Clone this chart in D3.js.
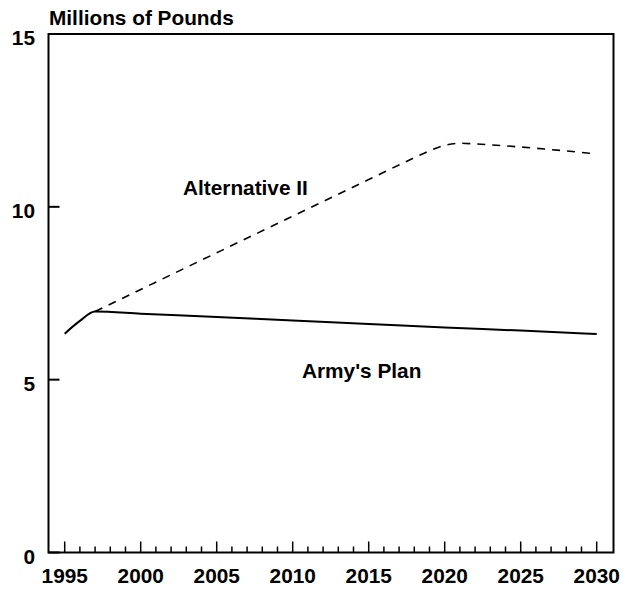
<!DOCTYPE html>
<html><head><meta charset="utf-8">
<script src="https://cdn.jsdelivr.net/npm/d3@7"></script>
<style>body{margin:0;background:#fff}svg text{font-family:"Liberation Sans",Arial,sans-serif;font-weight:bold;fill:#000}</style>
</head><body>
<svg id="c" width="633" height="590"></svg>
<script>
const armyYears = [1995, 1996, 1997, 2000, 2005, 2010, 2015, 2020, 2025, 2030];
const armyValues = [6.33, 6.70, 6.97, 6.91, 6.81, 6.71, 6.61, 6.51, 6.42, 6.32];
const altYears = [1997, 2000, 2005, 2010, 2015, 2018, 2019, 2020, 2021, 2022, 2025, 2030];
const altValues = [6.97, 7.61, 8.67, 9.73, 10.79, 11.42, 11.62, 11.78, 11.84, 11.82, 11.73, 11.53];
const yTicks = [0, 5, 10, 15];
const xTickLabels = [1995, 2000, 2005, 2010, 2015, 2020, 2025, 2030];
const seriesLabels = ["Alternative II", "Army's Plan"];
const yTitle = "Millions of Pounds";

const svg = d3.select("#c");
const box = {l: 48.5, r: 613.5, t: 34, b: 552.5};
const x = d3.scaleLinear().domain([1995, 2030]).range([64.7, 596.7]);
const y = d3.scaleLinear().domain([0, 15]).range([552.5, 34]);
const fs = 20.8;

// frame
svg.append("rect").attr("x", box.l).attr("y", box.t)
  .attr("width", box.r - box.l).attr("height", box.b - box.t)
  .attr("fill", "none").attr("stroke", "#000").attr("stroke-width", 2);

// x ticks
const minor = d3.range(1995, 2031);
svg.append("g").selectAll("line").data(minor).join("line")
  .attr("x1", d => x(d)).attr("x2", d => x(d))
  .attr("y1", box.b).attr("y2", d => box.b - (d % 5 === 0 ? 11 : 6))
  .attr("stroke", "#000").attr("stroke-width", 1.5);
svg.append("g").selectAll("text").data(xTickLabels).join("text")
  .attr("x", d => x(d)).attr("y", 583).attr("text-anchor", "middle")
  .attr("font-size", fs).text(d => d);

// y ticks
svg.append("g").selectAll("line").data(yTicks).join("line")
  .attr("x1", box.l).attr("x2", box.l + 11)
  .attr("y1", d => y(d)).attr("y2", d => y(d))
  .attr("stroke", "#000").attr("stroke-width", 2);
svg.append("g").selectAll("text").data(yTicks).join("text")
  .attr("x", 35).attr("y", d => y(d) + 11).attr("text-anchor", "end")
  .attr("font-size", fs).text(d => d);

svg.append("text").attr("x", 49).attr("y", 25).attr("font-size", fs).text(yTitle);

const line = d3.line().x(d => x(d[0])).y(d => y(d[1])).curve(d3.curveMonotoneX);
svg.append("path").datum(altYears.map((d, i) => [d, altValues[i]]))
  .attr("d", line).attr("fill", "none").attr("stroke", "#000")
  .attr("stroke-width", 1.6).attr("stroke-dasharray", "8,7");
svg.append("path").datum(armyYears.map((d, i) => [d, armyValues[i]]))
  .attr("d", line).attr("fill", "none").attr("stroke", "#000")
  .attr("stroke-width", 2);

svg.append("text").attr("x", 183).attr("y", 195).attr("font-size", fs).text(seriesLabels[0]);
svg.append("text").attr("x", 302).attr("y", 378).attr("font-size", fs).text(seriesLabels[1]);
</script>
</body></html>
